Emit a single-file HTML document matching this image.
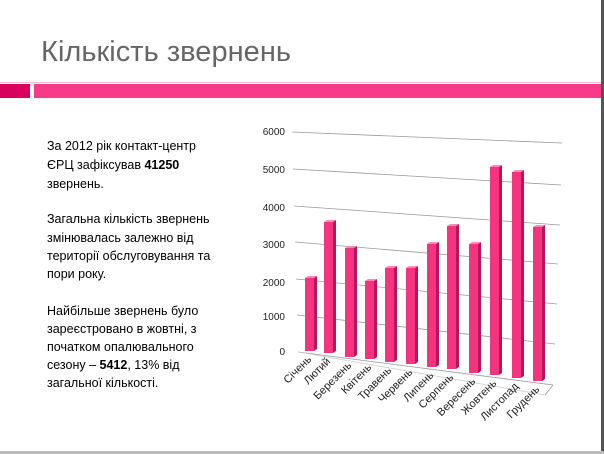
<!DOCTYPE html>
<html><head><meta charset="utf-8"><style>
html,body{margin:0;padding:0;background:#fff}
svg{display:block}
</style></head><body>
<svg width="604" height="454" viewBox="0 0 604 454" xmlns="http://www.w3.org/2000/svg">
<rect width="604" height="454" fill="#fff"/>
<rect x="601" y="0" width="3" height="454" fill="#555"/>
<rect x="0" y="451" width="604" height="3" fill="#bbb"/>
<text x="41" y="61" font-family="Liberation Sans, sans-serif" font-size="29" fill="#666" textLength="250">Кількість звернень</text>
<rect x="0" y="82" width="601" height="1" fill="#fbc"/>
<rect x="0" y="84" width="30" height="14" fill="#d8005c"/>
<rect x="34" y="84" width="567" height="14" fill="#f83a88"/>
<g font-family="Liberation Sans, sans-serif" font-size="12.5" fill="#000">
<text x="47" y="150">За 2012 рік контакт-центр</text>
<text x="47" y="169">ЄРЦ зафіксував <tspan font-weight="bold">41250</tspan></text>
<text x="47" y="188">звернень.</text>
<text x="47" y="223">Загальна кількість звернень</text>
<text x="47" y="242">змінювалась залежно від</text>
<text x="47" y="260">території обслуговування та</text>
<text x="47" y="278">пори року.</text>
<text x="47" y="315">Найбільше звернень було</text>
<text x="47" y="333">зареєстровано в жовтні, з</text>
<text x="47" y="351">початком опалювального</text>
<text x="47" y="369">сезону – <tspan font-weight="bold">5412</tspan>, 13% від</text>
<text x="47" y="387">загальної кількості.</text>
</g>
<g stroke="#999" stroke-width="0.8" fill="none">
<line x1="292" y1="132" x2="562" y2="143"/>
<line x1="293" y1="169" x2="561" y2="185"/>
<line x1="294" y1="206" x2="560" y2="225"/>
<line x1="295" y1="242" x2="558" y2="264"/>
<line x1="296" y1="279" x2="557" y2="304"/>
<line x1="297" y1="315" x2="555" y2="344"/>
<line x1="298" y1="352" x2="553" y2="385"/>
<line x1="553" y1="385" x2="545" y2="395"/>
<line x1="298" y1="352" x2="545" y2="395" stroke="#ccc"/>
</g>
<g font-family="Liberation Sans, sans-serif" font-size="10" fill="#222" text-anchor="end">
<text x="285" y="135">6000</text>
<text x="285" y="173">5000</text>
<text x="285" y="211">4000</text>
<text x="285" y="248">3000</text>
<text x="285" y="286">2000</text>
<text x="285" y="320">1000</text>
<text x="285" y="355">0</text>
</g>
<g id="bars"></g>
<g font-family="Liberation Sans, sans-serif" font-size="11" fill="#222" text-anchor="end" id="labels"></g>
<script>
var d=[[305,351,278,"Січень"],[324,353,222,"Лютий"],[345,357,248,"Березень"],[365,359,281,"Квітень"],[385,362,268,"Травень"],[406,364,268,"Червень"],[427,367,244,"Липень"],[447,369,226,"Серпень"],[469,373,244,"Вересень"],[490,375,167,"Жовтень"],[512,378,172,"Листопад"],[533,381,227,"Грудень"]];
var ns="http://www.w3.org/2000/svg",b=document.getElementById("bars"),l=document.getElementById("labels");
function poly(p,c){var e=document.createElementNS(ns,"polygon");e.setAttribute("points",p);e.setAttribute("fill",c);b.appendChild(e);}
d.forEach(function(r){var x=r[0],y=r[1],t=r[2],w=9,s=3;
poly(x+","+t+" "+(x+w)+","+t+" "+(x+w)+","+y+" "+x+","+y,"#f5337f");
poly((x+w)+","+t+" "+(x+w+s)+","+(t-2)+" "+(x+w+s)+","+(y-2)+" "+(x+w)+","+y,"#b3195a");
poly(x+","+t+" "+(x+s)+","+(t-2)+" "+(x+w+s)+","+(t-2)+" "+(x+w)+","+t,"#f98ab5");
var tx=document.createElementNS(ns,"text");tx.setAttribute("transform","translate("+(x+7)+","+(y+9)+") rotate(-45)");tx.textContent=r[3];l.appendChild(tx);});
</script>
</svg>
</body></html>
